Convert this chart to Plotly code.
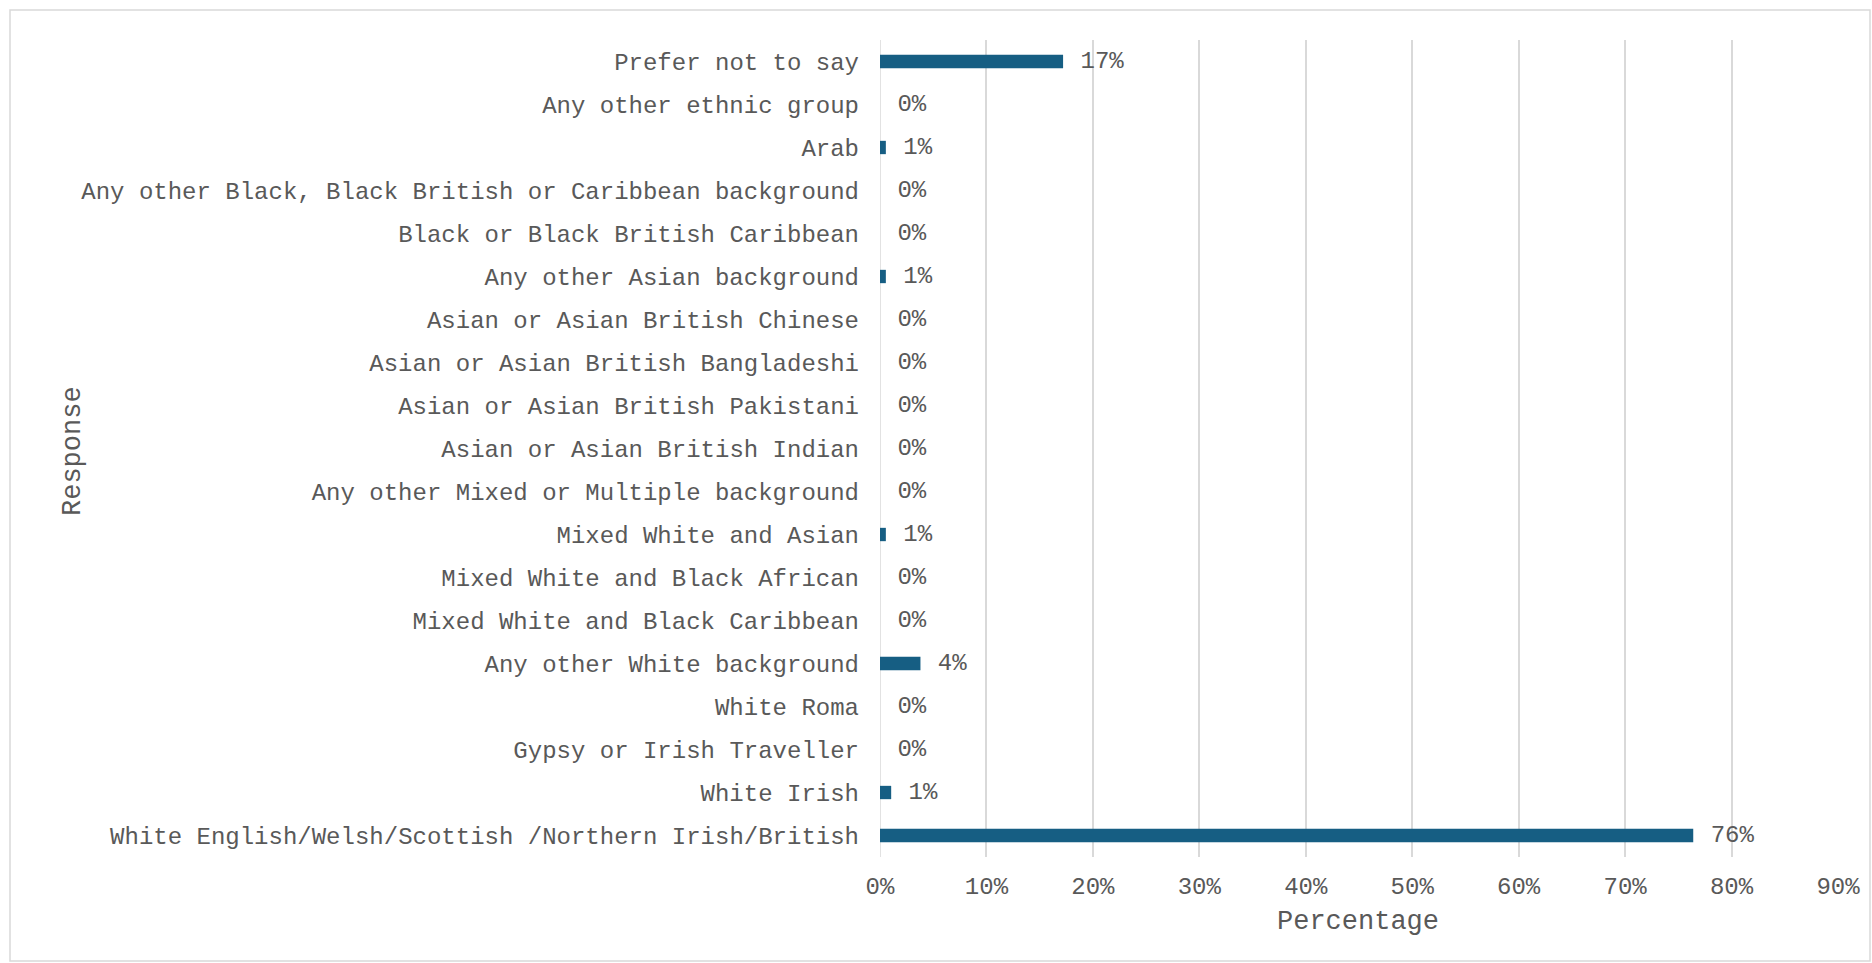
import plotly.graph_objects as go

categories = [
    "White English/Welsh/Scottish /Northern Irish/British",
    "White Irish",
    "Gypsy or Irish Traveller",
    "White Roma",
    "Any other White background",
    "Mixed White and Black Caribbean",
    "Mixed White and Black African",
    "Mixed White and Asian",
    "Any other Mixed or Multiple background",
    "Asian or Asian British Indian",
    "Asian or Asian British Pakistani",
    "Asian or Asian British Bangladeshi",
    "Asian or Asian British Chinese",
    "Any other Asian background",
    "Black or Black British Caribbean",
    "Any other Black, Black British or Caribbean background",
    "Arab",
    "Any other ethnic group",
    "Prefer not to say",
]
percentages = [76.4, 1.05, 0, 0, 3.8, 0, 0, 0.55, 0, 0, 0, 0, 0, 0.55, 0, 0, 0.55, 0, 17.2]
x_ticks = [0, 10, 20, 30, 40, 50, 60, 70, 80, 90]
x_tick_labels = [f"{v}%" for v in x_ticks]

W, H = 1872, 963
ML, MR, MT, MB = 880, 34, 40, 106
pw, ph = W - ML - MR, H - MT - MB

FONT = "Courier New, Liberation Mono, monospace"
TXT = "#595959"

fig = go.Figure(go.Bar(
    x=percentages, y=categories, orientation="h",
    marker=dict(color="#165e83", line=dict(width=0)),
    texttemplate=" %{x:.0f}%", textposition="outside",
    constraintext="none",
    textfont=dict(family=FONT, size=24, color=TXT),
    cliponaxis=False, width=0.31,
))

fig.update_layout(
    width=W, height=H,
    margin=dict(l=ML, r=MR, t=MT, b=MB),
    paper_bgcolor="white", plot_bgcolor="white",
    font=dict(family=FONT, size=24, color=TXT),
    showlegend=False,
    uniformtext=dict(minsize=24, mode="show"),
    xaxis=dict(range=[0, 90], tickvals=x_ticks, ticktext=x_tick_labels,
               showgrid=True, gridcolor="#d9d9d9", gridwidth=1.5,
               zeroline=False, showline=False, ticks="",
               ticklabelstandoff=12,
               tickfont=dict(family=FONT, size=24, color=TXT)),
    yaxis=dict(categoryorder="array", categoryarray=categories,
               showgrid=False, zeroline=False, showline=False, ticks="",
               ticklabelstandoff=20,
               tickfont=dict(family=FONT, size=24, color=TXT)),
    annotations=[
        dict(text="Percentage", xref="paper", yref="paper",
             x=(1358 - ML) / pw, y=(MT + ph - 922) / ph, showarrow=False,
             xanchor="center", yanchor="middle",
             font=dict(family=FONT, size=27, color=TXT)),
        dict(text="Response", xref="paper", yref="paper",
             x=(73 - ML) / pw, y=(MT + ph - 451) / ph, showarrow=False,
             textangle=-90, xanchor="center", yanchor="middle",
             font=dict(family=FONT, size=27, color=TXT)),
    ],
    shapes=[
        dict(type="rect", xref="paper", yref="paper",
             x0=(10 - ML) / pw, x1=(1870 - ML) / pw,
             y0=(MT + ph - 961) / ph, y1=(MT + ph - 10) / ph,
             line=dict(color="#d9d9d9", width=1.5), fillcolor="rgba(0,0,0,0)",
             layer="below"),
        dict(type="line", xref="x", yref="paper", x0=0, x1=0, y0=0, y1=1,
             line=dict(color="#d9d9d9", width=1.5), layer="below"),
    ],
)

fig.write_html("out.html")
